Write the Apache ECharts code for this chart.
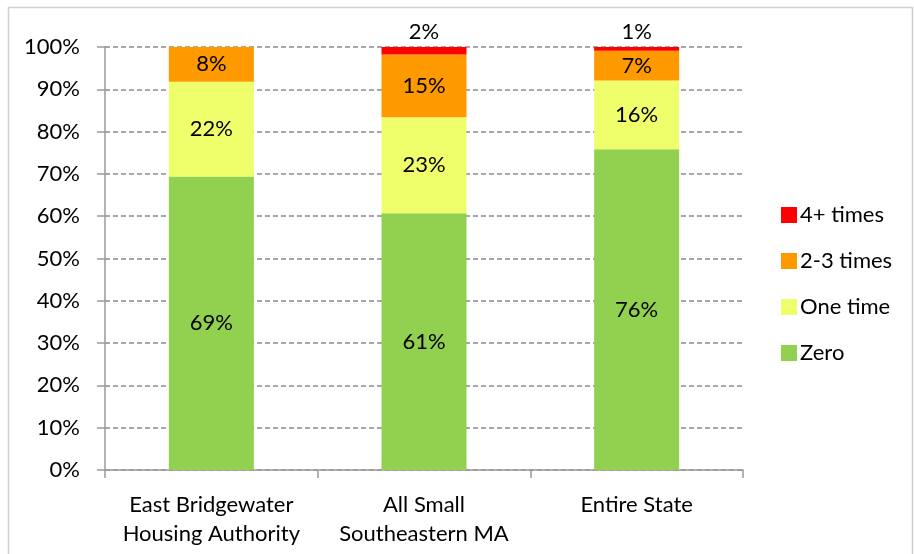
<!DOCTYPE html>
<html><head><meta charset="utf-8">
<script src="https://cdn.jsdelivr.net/npm/echarts@6/dist/echarts.min.js"></script>
<style>html,body{margin:0;padding:0;background:#fff}#c{width:914px;height:554px}</style>
</head><body><div id="c"></div>
<script>
const categories = ['East Bridgewater\nHousing Authority', 'All Small\nSoutheastern MA', 'Entire State'];
const zero = [69.4, 60.7, 75.8];
const oneTime = [22.4, 22.7, 16.3];
const twoThree = [8.2, 14.8, 7.0];
const fourPlus = [0, 1.8, 0.9];
const yTicks = [0, 10, 20, 30, 40, 50, 60, 70, 80, 90, 100];

const FONT = 'Lato';
const FS = 22;
const chart = echarts.init(document.getElementById('c'));
function lbl(pos) {
  return {
    show: true, position: pos, color: '#000', fontFamily: FONT, fontSize: FS,
    distance: 4,
    formatter: p => p.value > 0 ? Math.round(p.value) + '%' : ''
  };
}
function mk(name, data, color, pos) {
  return { name, type: 'bar', stack: 'a', data, barWidth: 85,
    itemStyle: { color }, label: lbl(pos) };
}
chart.setOption({
  animation: false,
  graphic: [{ type: 'rect', shape: { x: 8.5, y: 7.5, width: 904, height: 560 },
    style: { fill: 'none', stroke: '#d0d0d0', lineWidth: 1.5 } }],
  grid: { left: 105, right: 171, top: 47, bottom: 84 },
  legend: {
    orient: 'vertical', left: 776, top: 199, itemWidth: 16, itemHeight: 16, itemGap: 24,
    icon: 'rect', data: ['4+ times', '2-3 times', 'One time', 'Zero'],
    textStyle: { fontFamily: FONT, fontSize: FS, lineHeight: 20, color: '#000', padding: [0, 0, 0, -2] }
  },
  xAxis: {
    type: 'category', data: categories,
    axisLine: { lineStyle: { color: '#9a9a9a', width: 1.5 } },
    axisTick: { show: true, length: 8, lineStyle: { color: '#9a9a9a', width: 1.5 } },
    axisLabel: { interval: 0, fontFamily: FONT, fontSize: FS, color: '#000', margin: 20, lineHeight: 29 }
  },
  yAxis: {
    type: 'value', min: 0, max: 100, interval: 10,
    axisLine: { show: true, lineStyle: { color: '#9a9a9a', width: 1.5 } },
    axisTick: { show: true, length: 8, lineStyle: { color: '#9a9a9a', width: 1.5 } },
    splitLine: { lineStyle: { color: '#8a8a8a', type: [5, 3], width: 1.5 } },
    axisLabel: { fontFamily: FONT, fontSize: FS, color: '#000', margin: 25,
      formatter: v => yTicks.includes(v) ? v + '%' : '' }
  },
  series: [
    mk('Zero', zero, '#92D050', 'inside'),
    mk('One time', oneTime, '#EFFF6C', 'inside'),
    mk('2-3 times', twoThree, '#FF9900', 'inside'),
    mk('4+ times', fourPlus, '#FF0000', 'top')
  ]
});
</script></body></html>
